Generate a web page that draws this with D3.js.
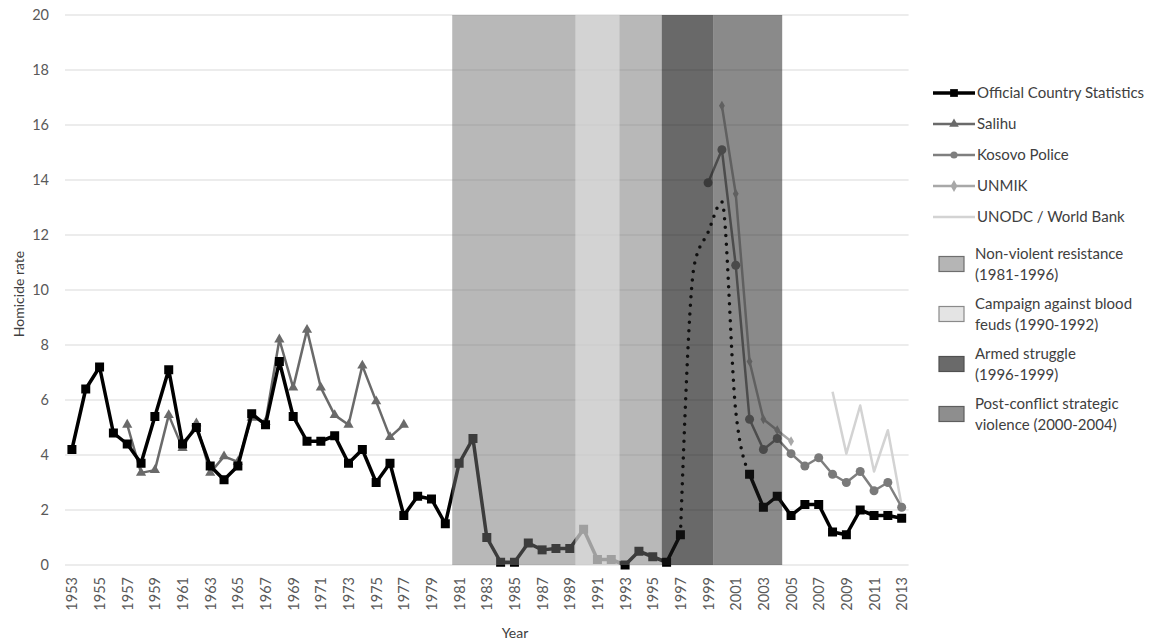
<!DOCTYPE html>
<html>
<head>
<meta charset="utf-8">
<script src="https://cdn.jsdelivr.net/npm/d3@7"></script>
<style>
    body { margin: 0; background: #fff; font-family: Lato, "Open Sans", sans-serif; }
    .tick text { fill: #595959; }
</style>
</head>
<body>
<svg id="chart"></svg>
<script>
// years 1953-2013
let years = d3.range(1953, 2014);

// Official Country Statistics (null = no data)
let official = [4.2, 6.4, 7.2, 4.8, 4.4, 3.7, 5.4, 7.1, 4.4, 5.0,
    3.6, 3.1, 3.6, 5.5, 5.1, 7.4, 5.4, 4.5, 4.5, 4.7,
    3.7, 4.2, 3.0, 3.7, 1.8, 2.5, 2.4, 1.5, 3.7, 4.6,
    1.0, 0.1, 0.1, 0.8, 0.55, 0.6, 0.6, 1.3, 0.2, 0.2,
    0.0, 0.5, 0.3, 0.1, 1.1, null, null, null, null, 3.3,
    2.1, 2.5, 1.8, 2.2, 2.2, 1.2, 1.1, 2.0, 1.8, 1.8,
    1.7];
// dotted estimate bridging the gap
let estimateYears = [1997, 1998, 1999, 2000, 2001, 2002];
let estimate = [1.1, 10.9, 12.1, 13.2, 5.6, 3.3];

let salihuYears = d3.range(1957, 1978);
let salihu = [5.1, 3.35, 3.45, 5.45, 4.25, 5.15, 3.35, 3.95, 3.75, 5.35,
    5.2, 8.2, 6.45, 8.55, 6.45, 5.45, 5.1, 7.25, 5.95, 4.65, 5.1];

let policeYears = d3.range(1999, 2014);
let police = [13.9, 15.1, 10.9, 5.3, 4.2, 4.6, 4.05, 3.6, 3.9, 3.3, 3.0, 3.4, 2.7, 3.0, 2.1];

let unmikYears = d3.range(2000, 2006);
let unmik = [16.7, 13.5, 7.4, 5.3, 4.9, 4.5];

let unodcYears = d3.range(2008, 2014);
let unodc = [6.3, 4.05, 5.8, 3.4, 4.9, 2.15];

// shaded periods
let periodNames = ["Non-violent resistance (1981-1996)", "Campaign against blood feuds (1990-1992)",
    "Armed struggle (1996-1999)", "Post-conflict strategic violence (2000-2004)"];
let periodStart = [1980.5, 1989.4, 1995.65, 1999.37];
let periodEnd = [1995.65, 1992.6, 1999.37, 2004.36];

let yTicks = [0, 2, 4, 6, 8, 10, 12, 14, 16, 18, 20];

let width = 1157, height = 644;

function main() {
    let svg = d3.select('#chart').attr('width', width).attr('height', height);
    let x = d3.scaleLinear().domain([1952.5, 2013.5]).range([65, 908.6]);
    let y = d3.scaleLinear().domain([0, 20]).range([565, 15]);

    // gridlines
    svg.append('g')
        .selectAll('line').data(yTicks).join('line')
        .attr('x1', x(1952.5)).attr('x2', x(2013.5))
        .attr('y1', d => y(d)).attr('y2', d => y(d))
        .attr('stroke', '#d9d9d9').attr('stroke-width', 1);

    // y axis labels
    let yAxis = svg.append('g')
        .attr('transform', `translate(${x(1952.5)},0)`)
        .call(d3.axisLeft(y).tickValues(yTicks).tickSize(0).tickPadding(16));
    yAxis.select('.domain').remove();
    yAxis.selectAll('text').attr('font-size', 14.5).attr('font-family', 'Lato');

    // x axis labels
    let xAxis = svg.append('g')
        .attr('transform', `translate(0,${y(0)})`)
        .call(d3.axisBottom(x).tickValues(years.filter(d => (d - 1953) % 2 === 0))
            .tickFormat(d3.format('d')).tickSize(0));
    xAxis.select('.domain').remove();
    xAxis.selectAll('text')
        .attr('font-size', 14.5).attr('font-family', 'Lato')
        .attr('transform', 'rotate(-90)')
        .attr('text-anchor', 'end')
        .attr('dy', '0.35em')
        .attr('x', -12).attr('y', 0);

    // lines
    let line = d3.line().defined(d => d[1] !== null).x(d => x(d[0])).y(d => y(d[1]));
    let plot = svg.append('g');

    function drawSeries(xs, vs, color, w) {
        plot.append('path')
            .datum(xs.map((d, i) => [d, vs[i]]))
            .attr('d', line)
            .attr('fill', 'none').attr('stroke', color).attr('stroke-width', w)
            .attr('stroke-linejoin', 'round');
    }

    drawSeries(unodcYears, unodc, '#d3d3d3', 2.5);
    drawSeries(unmikYears, unmik, '#a8a8a8', 2.5);
    plot.selectAll('.unmik').data(unmikYears).join('path')
        .attr('transform', (d, i) => `translate(${x(d)},${y(unmik[i])})`)
        .attr('d', d3.symbol(d3.symbolDiamond, 30))
        .attr('fill', '#a8a8a8');

    drawSeries(policeYears, police, '#7f7f7f', 2.5);
    plot.selectAll('.police').data(policeYears).join('circle')
        .attr('cx', d => x(d)).attr('cy', (d, i) => y(police[i])).attr('r', 4.5)
        .attr('fill', '#7a7a7a');

    drawSeries(salihuYears, salihu, '#6a6a6a', 2.5);
    plot.selectAll('.salihu').data(salihuYears).join('path')
        .attr('transform', (d, i) => `translate(${x(d)},${y(salihu[i])})`)
        .attr('d', d3.symbol(d3.symbolTriangle, 45))
        .attr('fill', '#6a6a6a');

    plot.append('path')
        .datum(estimateYears.map((d, i) => [d, estimate[i]]))
        .attr('d', d3.line().curve(d3.curveMonotoneX).x(d => x(d[0])).y(d => y(d[1])))
        .attr('fill', 'none').attr('stroke', '#000').attr('stroke-width', 3.5)
        .attr('stroke-linecap', 'round').attr('stroke-dasharray', '0 8.5');

    drawSeries(years, official, '#000', 3.5);
    plot.selectAll('.official').data(years.filter((d, i) => official[i] !== null)).join('rect')
        .attr('x', d => x(d) - 4.5)
        .attr('y', d => y(official[d - 1953]) - 4.5)
        .attr('width', 9).attr('height', 9)
        .attr('fill', '#000');

    // shaded periods drawn over the lines (semi-transparent)
    let bandFill = ['#757575', '#e6e6e6', '#171717', '#1d1d1d'];
    let bandOpacity = [0.514, 0.59, 0.647, 0.518];
    svg.append('g')
        .selectAll('rect').data(periodNames).join('rect')
        .attr('x', (d, i) => x(periodStart[i]))
        .attr('width', (d, i) => x(periodEnd[i]) - x(periodStart[i]))
        .attr('y', y(20)).attr('height', y(0) - y(20))
        .attr('fill', (d, i) => bandFill[i])
        .attr('fill-opacity', (d, i) => bandOpacity[i]);

    // axis titles
    svg.append('text')
        .attr('transform', `translate(19,294) rotate(-90)`)
        .attr('text-anchor', 'middle').attr('dy', '0.35em')
        .attr('font-size', 14).attr('fill', '#404040')
        .text('Homicide rate');
    svg.append('text')
        .attr('x', 515).attr('y', 633)
        .attr('text-anchor', 'middle').attr('dy', '0.35em')
        .attr('font-size', 14).attr('fill', '#404040')
        .text('Year');

    // legend
    let legend = svg.append('g');
    let lineItems = [
        {name: 'Official Country Statistics', color: '#000', w: 3.5, mark: 'square'},
        {name: 'Salihu', color: '#6a6a6a', w: 2.5, mark: 'triangle'},
        {name: 'Kosovo Police', color: '#7f7f7f', w: 2.5, mark: 'circle'},
        {name: 'UNMIK', color: '#a8a8a8', w: 2.5, mark: 'diamond'},
        {name: 'UNODC / World Bank', color: '#d3d3d3', w: 2.5, mark: null}
    ];
    let symbols = {square: d3.symbolSquare, triangle: d3.symbolTriangle, circle: d3.symbolCircle, diamond: d3.symbolDiamond};
    lineItems.forEach((item, i) => {
        let ly = 93 + i * 31;
        let g = legend.append('g').attr('transform', `translate(0,${ly})`);
        g.append('line').attr('x1', 933).attr('x2', 975).attr('y1', 0).attr('y2', 0)
            .attr('stroke', item.color).attr('stroke-width', item.w);
        if (item.mark) {
            g.append('path').attr('transform', 'translate(954,0)')
                .attr('d', d3.symbol(symbols[item.mark], item.mark === 'square' ? 60 : 40))
                .attr('fill', item.color);
        }
        g.append('text').attr('x', 977).attr('y', 0).attr('dy', '0.35em')
            .attr('font-size', 15).attr('fill', '#404040').text(item.name);
    });

    let swatchFill = ['#b5b5b5', '#e4e4e4', '#6a6a6a', '#8e8e8e'];
    let swatchStroke = ['#6e6e6e', '#8a8a8a', '#505050', '#5e5e5e'];
    let periodLines = [['Non-violent resistance', '(1981-1996)'], ['Campaign against blood', 'feuds (1990-1992)'],
        ['Armed struggle', '(1996-1999)'], ['Post-conflict strategic', 'violence (2000-2004)']];
    let swatchY = [264, 314, 364, 414];
    periodNames.forEach((d, i) => {
        let g = legend.append('g').attr('transform', `translate(0,${swatchY[i]})`);
        g.append('rect').attr('x', 939).attr('y', -7.5).attr('width', 25).attr('height', 15)
            .attr('fill', swatchFill[i]).attr('stroke', swatchStroke[i]).attr('stroke-width', 1.2);
        g.append('text').attr('x', 975).attr('y', -10.5).attr('dy', '0.35em')
            .attr('font-size', 15).attr('fill', '#404040').text(periodLines[i][0]);
        g.append('text').attr('x', 975).attr('y', 10.5).attr('dy', '0.35em')
            .attr('font-size', 15).attr('fill', '#404040').text(periodLines[i][1]);
    });
}
main();
</script>
</body>
</html>
